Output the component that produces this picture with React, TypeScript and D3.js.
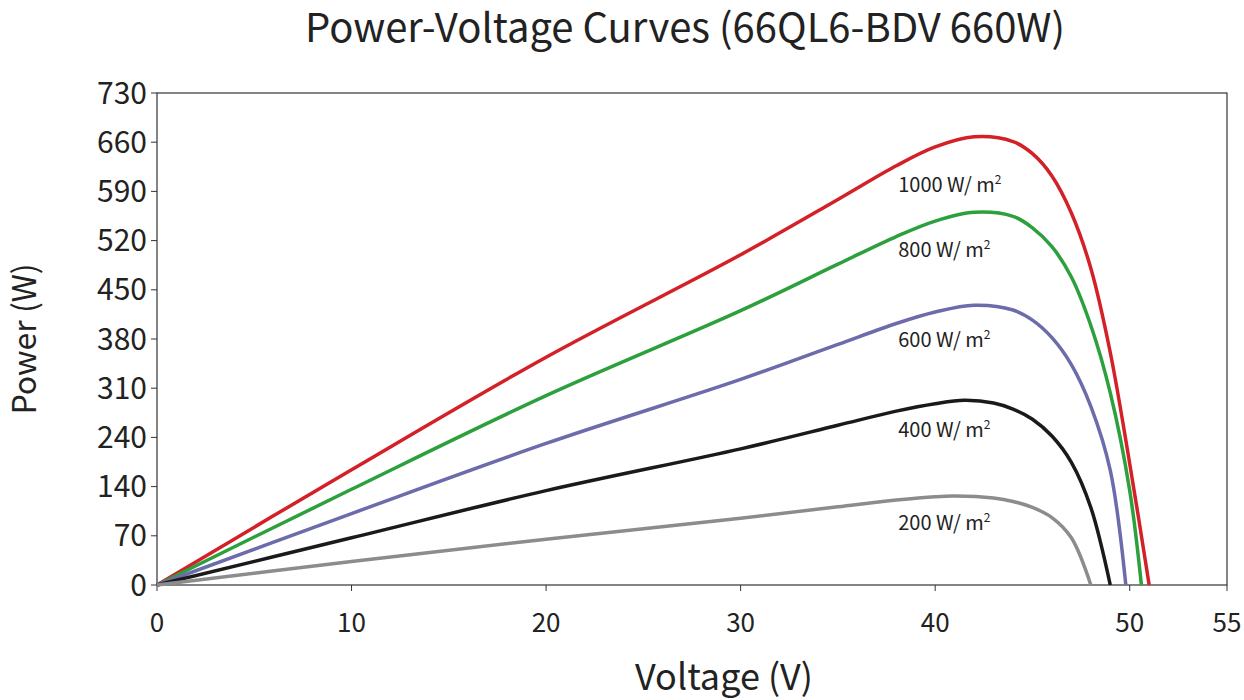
import * as d3 from "d3"

const yTickLabels = ["0", "70", "140", "240", "310", "380", "450", "520", "590", "660", "730"]
const xTicks = [0, 10, 20, 30, 40, 50, 55]

const v1000 = [0, 10, 20, 30, 35, 38, 40, 42, 44, 45, 46, 47, 48, 49, 50, 51]
const p1000 = [0, 171, 338, 490, 572, 622, 650, 665, 658, 640, 607, 552, 470, 345, 180, 0]
const v800 = [0, 10, 20, 30, 35, 38, 40, 42, 44, 45, 46, 47, 48, 49, 50, 50.6]
const p800 = [0, 142, 281, 407, 476, 517, 540, 553, 547, 530, 502, 457, 385, 285, 140, 0]
const v600 = [0, 10, 20, 30, 35, 38, 40, 42, 44, 45, 46, 47, 48, 49, 49.8]
const p600 = [0, 106, 210, 305, 357, 388, 405, 415, 408, 393, 367, 327, 265, 170, 0]
const v400 = [0, 10, 20, 30, 35, 38, 40, 41.5, 43, 44, 45, 46, 47, 48, 49]
const p400 = [0, 70, 140, 202, 237, 258, 269, 274, 270, 261, 246, 221, 182, 115, 0]
const v200 = [0, 10, 20, 30, 35, 38, 40, 41, 43, 44, 45, 46, 47, 48]
const p200 = [0, 35, 68, 99, 116, 126, 131, 132, 129, 124, 115, 100, 70, 0]

const series = [
  { name: "1000", v: v1000, p: p1000, color: "#d42027", labelP: 583 },
  { name: "800", v: v800, p: p800, color: "#2ca03c", labelP: 487 },
  { name: "600", v: v600, p: p600, color: "#6c6bab", labelP: 353 },
  { name: "400", v: v400, p: p400, color: "#1a1a1a", labelP: 220 },
  { name: "200", v: v200, p: p200, color: "#8c8c8c", labelP: 82 },
]

const W = 1244
const H = 700
const L = 157, R = 1227, T = 93, B = 585
const font = "'Noto Sans CJK SC', 'Noto Sans', sans-serif"

export default function App() {
  const x = d3.scaleLinear().domain([0, 55]).range([L, R])
  const y = d3.scaleLinear().domain([0, 730]).range([B, T])
  const line = d3
    .line<[number, number]>()
    .x((d) => x(d[0]))
    .y((d) => y(d[1]))
    .curve(d3.curveCatmullRom.alpha(0.5))

  return (
    <svg width={W} height={H} style={{ position: "absolute", left: 0, top: 0, background: "#fff" }} fontFamily={font}>
      <text x={685} y={42} textAnchor="middle" fontSize={40} fill="#222">
        Power-Voltage Curves (66QL6-BDV 660W)
      </text>
      <rect x={L} y={T} width={R - L} height={B - T} fill="none" stroke="#333" strokeWidth={1.2} />
      {yTickLabels.map((lab, i) => (
        <g key={lab}>
          <line x1={L - 6} x2={L} y1={y(i * 73)} y2={y(i * 73)} stroke="#333" />
          <text x={L - 10} y={y(i * 73)} dy="0.35em" textAnchor="end" fontSize={30} fill="#222">
            {lab}
          </text>
        </g>
      ))}
      {xTicks.map((t) => (
        <g key={t}>
          <line x1={x(t)} x2={x(t)} y1={B} y2={B + 6} stroke="#333" />
          <text x={x(t)} y={B + 47} textAnchor="middle" fontSize={26} fill="#222">
            {t}
          </text>
        </g>
      ))}
      <text x={724} y={690} textAnchor="middle" fontSize={36} fill="#222">Voltage (V)</text>
      <text transform={`translate(36,${(T + B) / 2}) rotate(-90)`} textAnchor="middle" fontSize={32} fill="#222">
        Power (W)
      </text>
      {series.map((s) => (
        <g key={s.name}>
          <path
            d={line(s.v.map((v, i) => [v, s.p[i]] as [number, number])) ?? ""}
            fill="none"
            stroke={s.color}
            strokeWidth={3.5}
          />
          <text x={x(38.1)} y={y(s.labelP)} fontSize={20} fill="#222">
            {s.name} W/ m<tspan dy={-8} fontSize={12}>2</tspan>
          </text>
        </g>
      ))}
    </svg>
  )
}
